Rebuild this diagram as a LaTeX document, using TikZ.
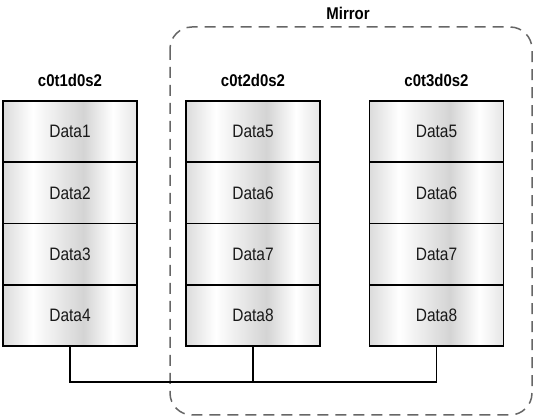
\documentclass[tikz,border=0pt]{standalone}
\usepackage{fontspec}
\setmainfont{Liberation Sans}
\newfontfamily\cellfont[FakeStretch=0.86]{Liberation Sans}
\newfontfamily\labfont[FakeStretch=0.88]{Liberation Sans}
\pgfdeclarehorizontalshading{cellshade}{100bp}{color(0bp)=(black!14); color(25bp)=(black!14); color(36bp)=(white); color(55bp)=(black!17); color(66bp)=(white); color(75bp)=(black!10); color(100bp)=(black!10)}
\tikzset{
  cell/.style={draw=black, line width=1.8pt, shading=cellshade, minimum width=134pt, minimum height=61.25pt, inner sep=0pt, font=\cellfont\fontsize{18}{20}\selectfont, text=black!90},
  disklabel/.style={font=\labfont\bfseries\fontsize{17}{19}\selectfont, inner sep=0pt},
  bus/.style={line width=1.8pt, draw=black},
  mirrorbox/.style={draw=black!60, line width=1.5pt, dash pattern=on 11pt off 7pt, rounded corners=22pt}
}
\begin{document}
\begin{tikzpicture}[x=1pt,y=-1pt]
\useasboundingbox (0,0) rectangle (536,419);
\draw[mirrorbox] (170,27) rectangle (532,415);
\node[disklabel] (mirror) at (348,13) {Mirror};
\foreach \c/\x/\n/\a/\b/\cc/\d in {a/70/1/1/2/3/4, b/253/2/5/6/7/8, c/436.5/3/5/6/7/8}{
  \node[disklabel] (\c lab) at (\x,80) {c0t\n d0s2};
  \node[cell] (\c1) at (\x,131.6) {Data\a};
  \node[cell] (\c2) at (\x,192.9) {Data\b};
  \node[cell] (\c3) at (\x,254.1) {Data\cc};
  \node[cell] (\c4) at (\x,315.4) {Data\d};
}
\draw[bus] (a4.south) -- ++(0,35) coordinate (j1) -| (c4.south);
\draw[bus] (b4.south) -- (b4.south |- j1);
\end{tikzpicture}
\end{document}
